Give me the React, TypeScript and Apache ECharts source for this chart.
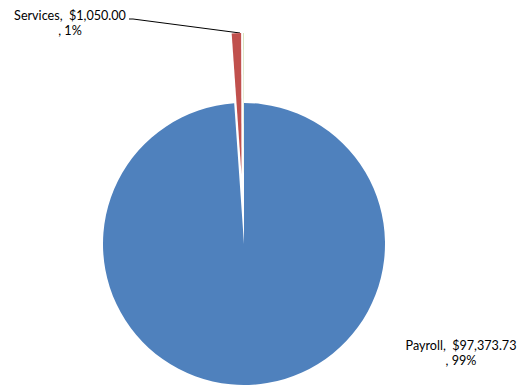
import React, { useEffect, useRef } from "react";
import * as echarts from "echarts";

const categories = ["Payroll", "Services", "Other"];
const values = [97373.73, 1050.0, 40];
const colors = ["#4F81BD", "#C0504D", "#9BBB59"];
const exploded = [false, true, true];
const showLabel = [true, true, false];

const fmtMoney = (v: number) =>
  "$" + v.toLocaleString("en-US", { minimumFractionDigits: 2, maximumFractionDigits: 2 });

export default function App() {
  const ref = useRef<HTMLDivElement>(null);
  useEffect(() => {
    if (!ref.current) return;
    const chart = echarts.init(ref.current, undefined, { renderer: "svg" });
    const total = values.reduce((a, b) => a + b, 0);
    const common = {
      type: "pie",
      center: [244, 244],
      radius: [0, 141],
      startAngle: 90,
      clockwise: true,
      avoidLabelOverlap: false,
      emphasis: { disabled: true },
      silent: true,
    };
    chart.setOption({
      animation: false,
      backgroundColor: "#ffffff",
      series: [
        {
          ...common,
          selectedMode: "multiple",
          selectedOffset: 70,
          itemStyle: { borderWidth: 0 },
          label: { show: false },
          labelLine: { show: false },
          data: categories.map((name, i) => ({
            name,
            value: values[i],
            selected: exploded[i],
            itemStyle: { color: colors[i] },
          })),
        },
        {
          ...common,
          itemStyle: { color: "rgba(0,0,0,0)", borderWidth: 0 },
          label: {
            show: true,
            color: "#000000",
            fontFamily: "Lato",
            fontSize: 12.6,
            lineHeight: 15,
            align: "center",
            formatter: (p: any) =>
              `${p.name},  ${fmtMoney(p.value)}\n, ${Math.round((p.value / total) * 100)}%`,
          },
          labelLine: { show: true, lineStyle: { color: "#000000", width: 1 } },
          labelLayout: (params: any) => {
            if (params.dataIndex === 0) {
              return { x: 461, y: 353, align: "center", verticalAlign: "middle" };
            }
            if (params.dataIndex === 1) {
              return {
                x: 70,
                y: 23,
                align: "center",
                verticalAlign: "middle",
                labelLinePoints: [
                  [129, 19],
                  [133, 19],
                  [240, 33],
                ],
              };
            }
            return {};
          },
          data: categories.map((name, i) => ({
            name,
            value: values[i],
            label: { show: showLabel[i] },
            labelLine: { show: i === 1 },
          })),
        },
      ],
    });
    return () => chart.dispose();
  }, []);
  return <div ref={ref} style={{ width: 526, height: 385, position: "absolute", left: 0, top: 0 }} />;
}
